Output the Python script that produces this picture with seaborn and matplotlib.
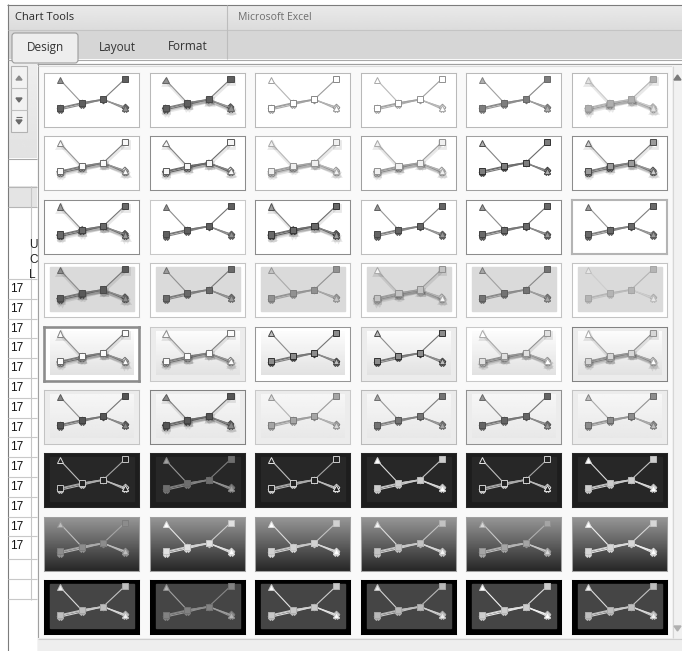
import numpy as np
import pandas as pd
import seaborn as sns
import matplotlib.pyplot as plt
import matplotlib.patheffects as pe
from matplotlib.patches import Rectangle, Polygon, FancyBboxPatch

W, H = 682, 651

# sample line chart drawn in every gallery thumbnail
points = [1, 2, 3, 4]
series_names = ["Series 1", "Series 2", "Series 3", "Series 4"]
series_a = [4.9, 1.6, 2.1, 0.9]   # triangle, starts top-left
series_b = [0.9, 1.6, 2.1, 5.0]   # square, ends top-right
series_c = [0.8, 1.5, 2.0, 1.0]
series_d = [0.6, 1.3, 2.1, 0.7]

title_left = "Chart Tools"
title_right = "Microsoft Excel"
tab_labels = ["Design", "Layout", "Format"]
sheet_letters = ["U", "C", "L"]
sheet_numbers = ["17"] * 14

df = pd.DataFrame({
    "point": points * 4,
    "value": series_a + series_b + series_c + series_d,
    "series": np.repeat(series_names, len(points)),
})

# gallery styles: background per row, (face, edge, line, hollow, shadow, border, border width) per cell
row_bg = ["white", "white", "white", "gray", "fade", "light", "dark", "grad", "black"]
cell_styles = [
    [(105, 80, 130, 0, 0, 185, 1), (105, 80, 130, 0, 1, 185, 1), (255, 140, 160, 1, 0, 185, 1),
     (255, 150, 165, 1, 0, 185, 1), (135, 110, 140, 0, 0, 185, 1), (185, 165, 185, 0, 1, 185, 1)],
    [(248, 110, 130, 1, 1, 185, 1), (245, 95, 110, 1, 1, 140, 1), (240, 150, 165, 1, 1, 185, 1),
     (240, 150, 160, 1, 1, 160, 1), (135, 55, 110, 0, 0, 160, 1), (165, 80, 130, 0, 1, 140, 1)],
    [(115, 70, 120, 0, 1, 140, 1), (105, 75, 120, 0, 0, 200, 1), (115, 60, 110, 0, 1, 140, 1),
     (110, 75, 130, 0, 0, 190, 1), (115, 70, 120, 0, 0, 140, 1), (115, 75, 130, 0, 0, 180, 2)],
    [(100, 80, 120, 0, 1, 195, 1), (115, 90, 125, 0, 0, 195, 1), (155, 130, 150, 0, 0, 195, 1),
     (205, 150, 160, 0, 1, 195, 1), (125, 100, 140, 0, 0, 195, 1), (190, 170, 185, 0, 0, 195, 1)],
    [(250, 110, 125, 1, 1, 140, 2.5), (250, 120, 130, 1, 1, 200, 1), (150, 55, 120, 0, 0, 150, 1),
     (150, 55, 120, 0, 0, 190, 1), (235, 150, 150, 0, 1, 200, 1), (225, 150, 150, 0, 1, 130, 1)],
    [(95, 70, 120, 0, 0, 195, 1), (95, 70, 110, 0, 1, 130, 1), (175, 130, 160, 0, 0, 200, 1),
     (125, 90, 130, 0, 0, 185, 1), (110, 85, 120, 0, 0, 145, 1), (150, 110, 150, 0, 0, 195, 1)],
    [(35, 200, 170, 1, 0, 40, 1), (120, 110, 130, 0, 0, 40, 1), (35, 210, 170, 1, 0, 40, 1),
     (215, 190, 200, 0, 0, 40, 1), (35, 210, 170, 1, 0, 40, 1), (215, 190, 200, 0, 0, 40, 1)],
    [(150, 130, 170, 0, 0, 160, 1), (235, 200, 210, 0, 0, 160, 1), (220, 200, 200, 0, 0, 160, 1),
     (205, 180, 200, 0, 0, 160, 1), (175, 150, 180, 0, 0, 160, 1), (225, 200, 220, 0, 0, 160, 1)],
    [(200, 170, 200, 0, 0, 0, 1), (140, 120, 140, 0, 0, 0, 1), (210, 180, 210, 0, 0, 0, 1),
     (195, 170, 190, 0, 0, 0, 1), (215, 190, 225, 0, 0, 0, 1), (200, 175, 200, 0, 0, 0, 1)],
]


def gray(t):
    t = int(max(0, min(255, t)))
    return "#{0:02x}{0:02x}{0:02x}".format(t)


sns.set_style("white")
plt.rcParams["font.family"] = ["Open Sans", "DejaVu Sans"]

fig = plt.figure(figsize=(W / 100, H / 100), dpi=100)
bg = fig.add_axes([0, 0, 1, 1])
bg.set_xlim(0, W)
bg.set_ylim(H, 0)
bg.axis("off")


def box(x, y, w, h, fc, ec="none", lw=0.8, z=1):
    bg.add_patch(Rectangle((x, y), w, h, facecolor=fc, edgecolor=ec, lw=lw, zorder=z))


def vgrad(x0, x1, y0, y1, top, bottom, z=1):
    g = np.linspace(top, bottom, 64).reshape(-1, 1)
    bg.imshow(g, extent=(x0, x1, y1, y0), origin="upper", cmap="gray", vmin=0, vmax=255,
              aspect="auto", zorder=z, interpolation="bilinear")


def hline(y, x0, x1, c, lw=0.8, z=3):
    bg.plot([x0, x1], [y, y], color=c, lw=lw, zorder=z, solid_capstyle="butt")


def vline(x, y0, y1, c, lw=0.8, z=3):
    bg.plot([x, x], [y0, y1], color=c, lw=lw, zorder=z, solid_capstyle="butt")


# ---- window chrome ----
box(0, 0, W, H, "white", z=0)
vgrad(8, W, 5, 30, 234, 220)
box(8, 30, W - 8, 29, "#d6d6d6")
hline(4.5, 7, W, "#7c7c7c")
vline(7.5, 4, H, "#7c7c7c")
hline(29.5, 8, W, "#c4c4c4")
vline(226.5, 5, 59, "#bdbdbd")
bg.text(15, 18, title_left, fontsize=8, color="#2a2a2a", va="center", zorder=4)
bg.text(238, 18, title_right, fontsize=7.5, color="#6e6e6e", va="center", zorder=4)

bg.add_patch(FancyBboxPatch((12, 33), 66, 30, boxstyle="round,pad=0,rounding_size=3",
                            facecolor="#eeeeee", edgecolor="#9c9c9c", lw=0.8, zorder=4))
tab_x = [45, 117, 188]
for lab, tx in zip(tab_labels, tab_x):
    bg.text(tx, 47, lab, fontsize=8.5, color="#333333", ha="center", va="center", zorder=5)
hline(59.5, 8, W, "#a9a9a9")

# ribbon strip on the left with gallery scroll buttons
vgrad(8, 37, 60, 158, 238, 226)
box(11, 66, 16, 66, "#f2f2f2", "#b2b2b2", z=3)
hline(88, 11, 27, "#c0c0c0", z=4)
hline(110, 11, 27, "#c0c0c0", z=4)
bg.add_patch(Polygon([[16, 80], [22, 80], [19, 76]], closed=True, color="#8a8a8a", zorder=5))
bg.add_patch(Polygon([[16, 98], [22, 98], [19, 102]], closed=True, color="#6a6a6a", zorder=5))
hline(117, 16, 22, "#6a6a6a", z=5)
bg.add_patch(Polygon([[16, 120], [22, 120], [19, 124]], closed=True, color="#6a6a6a", zorder=5))
hline(158.5, 8, 37, "#a8a8a8")

# worksheet fragment
box(8, 186, 30, 21, "#e4e4e4")
hline(186.5, 8, 37, "#b6b6b6")
hline(207, 8, 37, "#b6b6b6")
vline(30.5, 186, 600, "#c6c6c6")
for k, letter in enumerate(sheet_letters):
    bg.text(29, 245 + 15 * k, letter, fontsize=8.5, color="#222222", va="center",
            family=["Liberation Sans", "DejaVu Sans"], zorder=4)
for k, num in enumerate(sheet_numbers):
    yc = 289 + 19.8 * k
    hline(yc - 10, 8, 37, "#c8c8c8")
    bg.text(10, yc, num, fontsize=8.5, color="#111111", va="center",
            family=["Liberation Sans", "DejaVu Sans"], zorder=4)
hline(559, 8, 37, "#c8c8c8")
hline(579, 8, 37, "#c8c8c8")
hline(599, 8, 37, "#c8c8c8")

# gallery panel
box(37, 63, W - 37, H - 63, "#f9f9f9", z=2)
vline(37.5, 63, H, "#a0a0a0")
hline(63.5, 37, W, "#a0a0a0")
hline(65.5, 38, W, "#dcdcdc")
box(672, 66, 10, 572, "#f1f1f1", z=3)
vline(672.5, 66, 638, "#d6d6d6", z=4)
bg.add_patch(Polygon([[674, 80], [681, 80], [677.5, 75]], closed=True, color="#7a7a7a", zorder=5))
bg.add_patch(Polygon([[674, 626], [681, 626], [677.5, 631]], closed=True, color="#b0b0b0", zorder=5))
box(38, 638, W - 38, 13, "#eeeeee", z=3)
hline(638.5, 38, W, "#cfcfcf", z=4)

# ---- gallery thumbnails ----
markers = {"Series 1": "^", "Series 2": "s", "Series 3": "D", "Series 4": "X"}
sizes = {"Series 1": 4.6, "Series 2": 4.4, "Series 3": 3.4, "Series 4": 4.0}
tone_shift = {"Series 1": 40, "Series 2": -10, "Series 3": 0, "Series 4": 20}
draw_order = ["Series 4", "Series 3", "Series 1", "Series 2"]

col_x = [44, 149.6, 255.2, 360.8, 466.4, 572]
row_y = [73 + 63.4 * i for i in range(9)]
tw, th = 95, 54
inner = (6 / tw, 1 - 48 / th, 84 / tw, 44 / th)

for i, y0 in enumerate(row_y):
    kind = row_bg[i]
    for j, x0 in enumerate(col_x):
        face, edge, line, hollow, shadow, border, bw = cell_styles[i][j]
        ax = fig.add_axes([x0 / W, 1 - (y0 + th) / H, tw / W, th / H])
        ax.set_zorder(5)
        if kind == "white":
            ax.set_facecolor("white")
        elif kind == "gray":
            ax.set_facecolor("white")
            ax.add_patch(Rectangle(inner[:2], inner[2], inner[3], transform=ax.transAxes,
                                   color="#dadada", zorder=0))
        elif kind == "fade":
            ax.set_facecolor("white" if j in (0, 2, 4) else "#ececec")
            g = np.linspace(252, 226, 32).reshape(-1, 1)
            ax.imshow(g, extent=(inner[0], inner[0] + inner[2], inner[1], inner[1] + inner[3]),
                      transform=ax.transAxes, cmap="gray", vmin=0, vmax=255, aspect="auto",
                      zorder=0, interpolation="bilinear")
        elif kind == "light":
            ax.set_facecolor("#ececec")
            g = np.linspace(246, 232, 32).reshape(-1, 1)
            ax.imshow(g, extent=(inner[0], inner[0] + inner[2], inner[1], inner[1] + inner[3]),
                      transform=ax.transAxes, cmap="gray", vmin=0, vmax=255, aspect="auto",
                      zorder=0, interpolation="bilinear")
        elif kind == "dark":
            ax.set_facecolor("#1d1d1d")
            ax.add_patch(Rectangle(inner[:2], inner[2], inner[3], transform=ax.transAxes,
                                   color="#272727", zorder=0))
        elif kind == "grad":
            g = np.linspace(150, 40, 32).reshape(-1, 1)
            ax.imshow(g, extent=(0, 1, 0, 1), transform=ax.transAxes, cmap="gray",
                      vmin=0, vmax=255, aspect="auto", zorder=0, interpolation="bilinear")
        else:
            ax.set_facecolor("black")
            ax.add_patch(Rectangle(inner[:2], inner[2], inner[3], transform=ax.transAxes,
                                   color="#454545", zorder=0))

        for name in draw_order:
            sub = df[df["series"] == name]
            dt = tone_shift[name]
            if hollow:
                mfc = gray(face)
            else:
                mfc = gray(face + dt)
            kws = dict(marker=markers[name], markersize=sizes[name], color=gray(line + dt // 2),
                       mfc=mfc, mec=gray(edge + dt // 2), mew=0.7, lw=0.8)
            if shadow:
                kws["path_effects"] = [pe.SimpleLineShadow(offset=(0.4, -1.5), shadow_color="k",
                                                           alpha=0.09, linewidth=2.0),
                                       pe.Normal()]
            sns.lineplot(data=sub, x="point", y="value", ax=ax, legend=False, **kws)

        ax.set_xlim(0.26, 4.65)
        ax.set_ylim(-1.86, 5.86)
        ax.set_xticks([])
        ax.set_yticks([])
        ax.set_xlabel("")
        ax.set_ylabel("")
        for sp in ax.spines.values():
            sp.set_visible(True)
            sp.set_color(gray(border))
            sp.set_linewidth(bw * 0.75)

fig.savefig("out.png", dpi=100)
